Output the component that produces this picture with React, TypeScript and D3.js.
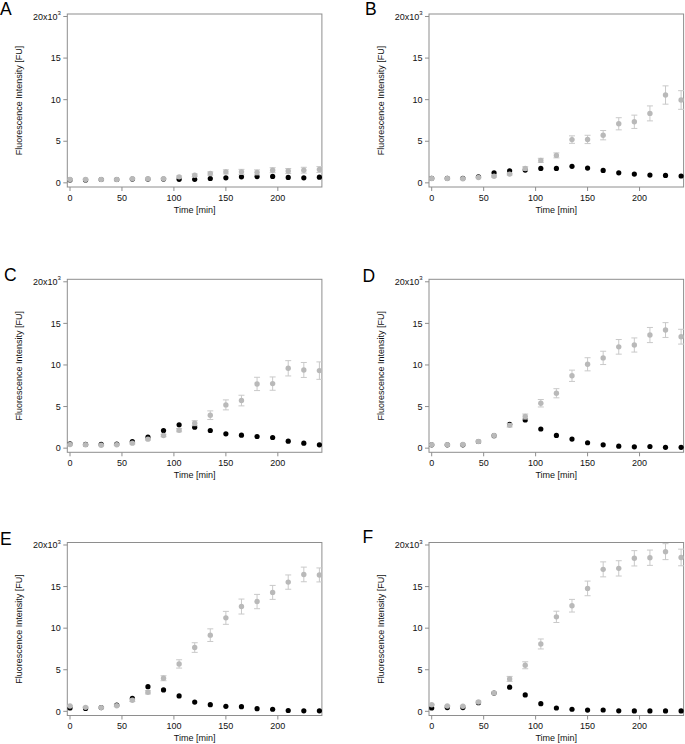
import * as d3 from 'd3';

// sampling times [min]
const times = [0, 15, 30, 45, 60, 75, 90, 105, 120, 135, 150, 165, 180, 195, 210, 225, 240];

const panelNames = ['A', 'B', 'C', 'D', 'E', 'F'];

// grey series (mean, x10^3 FU) and its error
const greyA = [0.4, 0.4, 0.4, 0.4, 0.5, 0.5, 0.5, 0.72, 0.92, 1.12, 1.32, 1.32, 1.26, 1.52, 1.42, 1.52, 1.6];
const errA = [0.05, 0.05, 0.05, 0.05, 0.05, 0.05, 0.05, 0.1, 0.15, 0.2, 0.25, 0.3, 0.3, 0.3, 0.3, 0.35, 0.35];
const greyB = [0.52, 0.52, 0.5, 0.65, 0.8, 1.05, 1.73, 2.7, 3.3, 5.2, 5.22, 5.73, 7.1, 7.34, 8.35, 10.56, 9.96];
const errB = [0.05, 0.05, 0.05, 0.05, 0.1, 0.1, 0.2, 0.25, 0.3, 0.45, 0.5, 0.56, 0.73, 0.8, 0.9, 1.1, 1.12];
const greyC = [0.44, 0.4, 0.35, 0.4, 0.6, 1.08, 1.52, 2.16, 3.0, 3.96, 5.2, 5.72, 7.72, 7.76, 9.6, 9.4, 9.32];
const errC = [0.05, 0.05, 0.05, 0.05, 0.1, 0.1, 0.15, 0.2, 0.3, 0.52, 0.6, 0.64, 0.8, 0.8, 0.92, 0.9, 1.05];
const greyD = [0.4, 0.4, 0.45, 0.8, 1.53, 2.74, 3.8, 5.4, 6.6, 8.7, 10.08, 10.85, 12.18, 12.4, 13.6, 14.2, 13.4];
const errD = [0.05, 0.05, 0.05, 0.1, 0.1, 0.2, 0.3, 0.45, 0.55, 0.68, 0.79, 0.8, 0.88, 0.85, 0.91, 0.89, 0.89];
const greyE = [0.64, 0.48, 0.45, 0.68, 1.33, 2.29, 3.98, 5.7, 7.67, 9.16, 11.24, 12.6, 13.2, 14.3, 15.54, 16.46, 16.4];
const errE = [0.05, 0.05, 0.05, 0.1, 0.15, 0.2, 0.3, 0.5, 0.58, 0.76, 0.78, 0.9, 0.86, 0.84, 0.86, 0.88, 0.84];
const greyF = [0.8, 0.64, 0.62, 1.12, 2.2, 3.9, 5.54, 8.1, 11.36, 12.7, 14.78, 17.07, 17.19, 18.4, 18.47, 19.2, 18.5];
const errF = [0.05, 0.05, 0.05, 0.1, 0.15, 0.3, 0.42, 0.6, 0.68, 0.76, 0.88, 0.9, 0.92, 0.92, 0.92, 0.96, 1.0];

// black series (mean, x10^3 FU)
const blackA = [0.35, 0.35, 0.4, 0.4, 0.45, 0.45, 0.45, 0.42, 0.42, 0.52, 0.6, 0.72, 0.75, 0.77, 0.65, 0.6, 0.68];
const blackB = [0.55, 0.55, 0.55, 0.73, 1.2, 1.45, 1.53, 1.73, 1.73, 1.98, 1.77, 1.49, 1.2, 1.05, 0.93, 0.89, 0.82];
const blackC = [0.52, 0.45, 0.45, 0.5, 0.8, 1.32, 2.12, 2.8, 2.52, 2.12, 1.72, 1.56, 1.4, 1.28, 0.84, 0.6, 0.4];
const blackD = [0.4, 0.4, 0.4, 0.8, 1.5, 2.86, 3.39, 2.3, 1.53, 1.09, 0.65, 0.4, 0.24, 0.16, 0.2, 0.1, 0.1];
const blackE = [0.4, 0.35, 0.45, 0.76, 1.57, 2.97, 2.57, 1.85, 1.12, 0.8, 0.6, 0.56, 0.32, 0.25, 0.1, 0.06, 0.06];
const blackF = [0.4, 0.45, 0.45, 1.04, 2.2, 2.9, 1.97, 0.92, 0.4, 0.25, 0.15, 0.16, 0.06, 0.05, 0.05, 0.05, 0.05];

const greySeries = [greyA, greyB, greyC, greyD, greyE, greyF];
const greyErrors = [errA, errB, errC, errD, errE, errF];
const blackSeries = [blackA, blackB, blackC, blackD, blackE, blackF];

const xTicks = [0, 50, 100, 150, 200];
const yTicks = [0, 5, 10, 15, 20];

const colLeft = [67.3, 429];
const rowTop = [14, 279.3, 542.5];
const plotW = 254.6;
const plotH = 173;
// where each panel letter sits
const letterPos = [
  [0, 15],
  [365, 15],
  [4, 280.5],
  [362.5, 282],
  [0, 545],
  [362.5, 543],
];

const frameColor = '#8e8e8e';
const greyColor = '#b9b9b9';
const errColor = '#c9c9c9';
const font = '"Liberation Sans", Arial, sans-serif';

const Panel = ({ i }: { i: number }) => {
  const left = colLeft[i % 2];
  const top = rowTop[Math.floor(i / 2)];
  const x = d3.scaleLinear().domain([-2.6, 242.4]).range([left, left + plotW]);
  const y = d3.scaleLinear().domain([-0.5, 20.3]).range([top + plotH, top]);
  const grey = greySeries[i];
  const err = greyErrors[i];
  const black = blackSeries[i];
  const bottom = top + plotH;

  return (
    <g>
      <text
        x={letterPos[i][0]}
        y={letterPos[i][1]}
        fontSize={17.5}
        fontFamily={font}
        fill="#000"
      >
        {panelNames[i]}
      </text>

      {/* frame */}
      <rect
        x={left}
        y={top}
        width={plotW}
        height={plotH}
        fill="none"
        stroke={frameColor}
        strokeWidth={1}
      />

      {/* y axis */}
      {yTicks.map((t) => (
        <g key={'y' + t}>
          <line
            x1={left - 4}
            x2={left}
            y1={y(t)}
            y2={y(t)}
            stroke={frameColor}
          />
          <text
            x={left - 6.5}
            y={y(t) + 3.2}
            textAnchor="end"
            fontSize={9}
            fontFamily={font}
            fill="#111"
          >
            {t === 20 ? (
              <>
                20x10
                <tspan fontSize={6} dy={-4.5}>
                  3
                </tspan>
              </>
            ) : (
              t
            )}
          </text>
        </g>
      ))}
      <text
        transform={`translate(${left - 45.5},${top + plotH / 2}) rotate(-90)`}
        textAnchor="middle"
        fontSize={9}
        fontFamily={font}
        fill="#111"
      >
        Fluorescence Intensity [FU]
      </text>

      {/* x axis */}
      {xTicks.map((t) => (
        <g key={'x' + t}>
          <line
            x1={x(t)}
            x2={x(t)}
            y1={bottom}
            y2={bottom + 4}
            stroke={frameColor}
          />
          <text
            x={x(t)}
            y={bottom + 13.8}
            textAnchor="middle"
            fontSize={9}
            fontFamily={font}
            fill="#111"
          >
            {t}
          </text>
        </g>
      ))}
      <text
        x={left + plotW / 2}
        y={bottom + 25.8}
        textAnchor="middle"
        fontSize={9}
        fontFamily={font}
        fill="#111"
      >
        Time [min]
      </text>

      {/* black series (drawn underneath) */}
      {times.map((t, k) => (
        <circle key={'b' + k} cx={x(t)} cy={y(black[k])} r={2.6} fill="#000" />
      ))}

      {/* grey series with error bars, on top */}
      {times.map((t, k) => (
        <g key={'e' + k} stroke={errColor} strokeWidth={1}>
          <line x1={x(t)} x2={x(t)} y1={y(grey[k] - err[k])} y2={y(grey[k] + err[k])} />
          <line x1={x(t) - 3} x2={x(t) + 3} y1={y(grey[k] - err[k])} y2={y(grey[k] - err[k])} />
          <line x1={x(t) - 3} x2={x(t) + 3} y1={y(grey[k] + err[k])} y2={y(grey[k] + err[k])} />
        </g>
      ))}
      {times.map((t, k) => (
        <circle key={'g' + k} cx={x(t)} cy={y(grey[k])} r={2.7} fill={greyColor} />
      ))}
    </g>
  );
};

export default function App() {
  return (
    <svg
      width={685}
      height={744}
      style={{ position: 'absolute', left: 0, top: 0, background: '#fff' }}
    >
      {panelNames.map((_, i) => (
        <Panel key={i} i={i} />
      ))}
    </svg>
  );
}
